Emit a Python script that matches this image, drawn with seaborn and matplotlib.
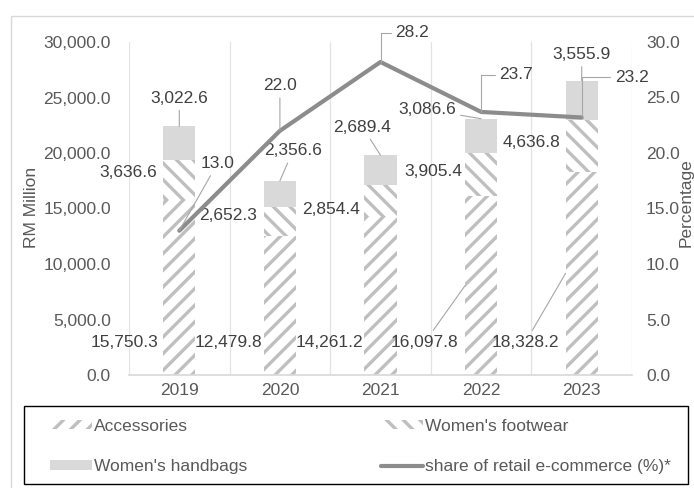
import numpy as np
import pandas as pd
import matplotlib
matplotlib.use('Agg')
import matplotlib.pyplot as plt
import matplotlib.patches as mpatches
from matplotlib.lines import Line2D
from matplotlib.ticker import StrMethodFormatter, MultipleLocator, FixedLocator
import seaborn as sns

#%% Data
years = ['2019', '2020', '2021', '2022', '2023']
accessories = [15750.3, 12479.8, 14261.2, 16097.8, 18328.2]
womens_footwear = [3636.6, 2652.3, 2854.4, 3905.4, 4636.8]
womens_handbags = [3022.6, 2356.6, 2689.4, 3086.6, 3555.9]
ecommerce_share = [13.0, 22.0, 28.2, 23.7, 23.2]

df = pd.DataFrame({'year': years, 'acc': accessories,
                   'fw': womens_footwear, 'hb': womens_handbags,
                   'share': ecommerce_share})
df['acc_fw'] = df['acc'] + df['fw']
df['total'] = df['acc_fw'] + df['hb']
pos = np.arange(len(years))

#%% Style
sns.set_theme(style='white')
plt.rcParams['font.family'] = ['Liberation Sans', 'DejaVu Sans']
plt.rcParams['hatch.linewidth'] = 2.4

tick_col = '#595959'
lab_col = '#404040'
lead_col = '#a6a6a6'
hatch_col = '#bfbfbf'
hb_col = '#d9d9d9'
line_col = '#8c8c8c'
fs = 12.5
bw = 0.32

fig = plt.figure(figsize=(6.94, 4.88), dpi=100)
ax = fig.add_axes([129 / 694, 1 - 375 / 488, 503 / 694, 333 / 488])

# stacked bars, drawn from the top layer down
sns.barplot(x='year', y='total', data=df, color=hb_col, saturation=1,
            width=bw, errorbar=None, linewidth=0, ax=ax)
sns.barplot(x='year', y='acc_fw', data=df, color='white', saturation=1,
            width=bw, errorbar=None, linewidth=0, edgecolor=hatch_col,
            hatch='\\\\', ax=ax)
sns.barplot(x='year', y='acc', data=df, color='white', saturation=1,
            width=bw, errorbar=None, linewidth=0, edgecolor=hatch_col,
            hatch='//', ax=ax)

ax.set_xlim(-0.5, len(years) - 0.5)
ax.set_ylim(0, 30000)
ax.yaxis.set_major_locator(MultipleLocator(5000))
ax.yaxis.set_major_formatter(StrMethodFormatter('{x:,.1f}'))
ax.xaxis.set_minor_locator(FixedLocator(np.arange(-0.5, len(years), 1)))
ax.grid(True, which='minor', axis='x', color='#e3e3e3', lw=0.9)
ax.grid(False, which='major')
ax.set_xlabel('')
ax.set_ylabel('')
ax.tick_params(axis='y', length=0, pad=13, labelsize=fs, labelcolor=tick_col)
ax.tick_params(axis='x', which='both', length=0, pad=6, labelsize=fs,
               labelcolor=tick_col)
for s in ['left', 'right', 'top']:
    ax.spines[s].set_visible(False)
ax.spines['bottom'].set_color('#d9d9d9')
ax.set_axisbelow(True)

# share line on the secondary axis
ax2 = ax.twinx()
sns.lineplot(x=pos, y=df['share'], ax=ax2, color=line_col, lw=3,
             legend=False)
ax2.set_xlim(-0.5, len(years) - 0.5)
ax2.set_ylim(0, 30)
ax2.yaxis.set_major_locator(MultipleLocator(5))
ax2.yaxis.set_major_formatter(StrMethodFormatter('{x:.1f}'))
ax2.tick_params(axis='y', length=0, pad=10, labelsize=fs, labelcolor=tick_col)
ax2.set_ylabel('')
for s in ax2.spines.values():
    s.set_visible(False)

#%% Data labels
lead = dict(arrowstyle='-', color=lead_col, lw=0.8, shrinkA=1, shrinkB=0)

# accessories: left of each bar, near the base
acc_dx = [-0.54, -0.51, -0.51, -0.56, -0.56]
acc_lead = [False, False, False, True, True]
for i in pos:
    ap = lead if acc_lead[i] else None
    ax.annotate(f'{accessories[i]:,.1f}', xy=(i - bw / 2, accessories[i] / 2),
                xytext=(i + acc_dx[i], 2950), textcoords='data',
                ha='center', va='center', fontsize=fs, color=lab_col,
                arrowprops=ap)

# footwear: left of the segment centre
fw_off = [(-51, 7), (-52, 6), (-49, -9), (-48, 3), (-50, 3)]
for i in pos:
    ax.annotate(f'{womens_footwear[i]:,.1f}',
                xy=(i, accessories[i] + womens_footwear[i] / 2),
                xytext=fw_off[i], textcoords='offset pixels',
                ha='center', va='center', fontsize=fs, color=lab_col)

# handbags: above the bar top
hb_off = [(0, 28), (13, 30), (-18, 28), (-54, 9), (0, 26)]
for i in pos:
    ax.annotate(f'{womens_handbags[i]:,.1f}', xy=(i, df['total'][i]),
                xytext=hb_off[i], textcoords='offset pixels',
                ha='center', va='center', fontsize=fs, color=lab_col,
                arrowprops=lead)

# e-commerce share
sh_off = [(38, 67), (0, 45), (32, 29), (35, 37), (50, 40)]
sh_elbow = [False, False, True, True, True]
for i in pos:
    ap = dict(lead)
    if sh_elbow[i]:
        ap['connectionstyle'] = 'angle,angleA=0,angleB=90,rad=0'
        ap['relpos'] = (0, 0.5)
    ax2.annotate(f'{ecommerce_share[i]:.1f}', xy=(i, ecommerce_share[i]),
                 xytext=sh_off[i], textcoords='offset pixels',
                 ha='center', va='center', fontsize=fs, color=lab_col,
                 arrowprops=ap)

#%% Axis titles, legend, frames
fig.text(31 / 694, 1 - 207 / 488, 'RM Million', rotation=90, ha='center',
         va='center', fontsize=fs, color=tick_col)
fig.text(686.5 / 694, 1 - 203 / 488, 'Percentage', rotation=90, ha='center',
         va='center', fontsize=fs, color=tick_col)

handles = [
    mpatches.Patch(facecolor='white', edgecolor=hatch_col, hatch='//', lw=0),
    mpatches.Patch(facecolor=hb_col, edgecolor=hb_col, lw=0),
    mpatches.Patch(facecolor='white', edgecolor=hatch_col, hatch='\\\\', lw=0),
    Line2D([0], [0], color=line_col, lw=3),
]
labels = ['Accessories', "Women's handbags", "Women's footwear",
          'share of retail e-commerce (%)*']
leg = fig.legend(handles, labels, loc='upper left',
                 bbox_to_anchor=(50 / 694, 1 - 419 / 488), ncol=2,
                 frameon=False, fontsize=fs, borderpad=0, borderaxespad=0,
                 handlelength=2.4, handleheight=0.45, handletextpad=0.15,
                 columnspacing=7.7, labelspacing=1.45)
for t in leg.get_texts():
    t.set_color(tick_col)

fig.add_artist(mpatches.Rectangle((24 / 694, 1 - 484 / 488), 664 / 694,
                                  78 / 488, fill=False, edgecolor='black',
                                  lw=1, transform=fig.transFigure))
fig.add_artist(mpatches.Rectangle((11 / 694, -0.05), 1.1, 1.05 - 16 / 488,
                                  fill=False, edgecolor='#d9d9d9', lw=1,
                                  transform=fig.transFigure, clip_on=False))

fig.savefig('out.png', dpi=100)
